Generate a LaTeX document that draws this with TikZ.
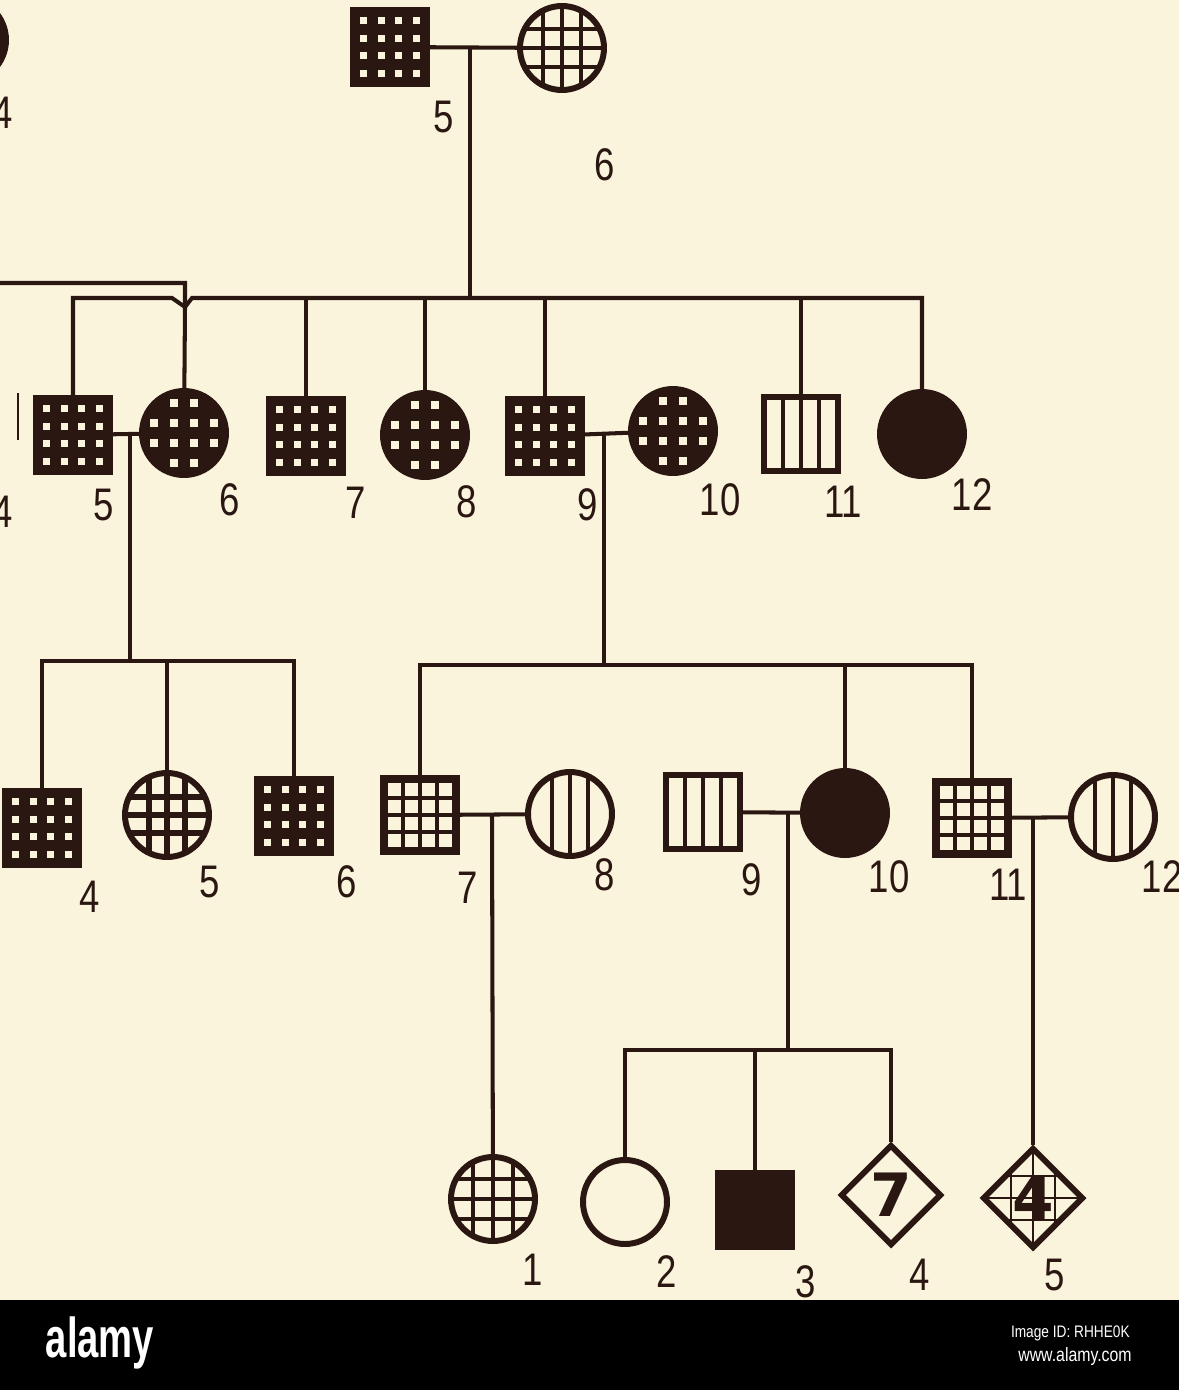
\documentclass[tikz,border=0pt]{standalone}
\usepackage{fontspec}
\usetikzlibrary{shapes.geometric}
\newfontfamily\numfont[FakeStretch=0.8]{Liberation Sans}
\newfontfamily\markfont{DejaVu Sans}
\newfontfamily\bannerfont[FakeStretch=0.68]{Liberation Sans}
\newfontfamily\smallfont[FakeStretch=0.82]{Liberation Sans}
\definecolor{paper}{HTML}{FBF4DC}
\definecolor{ink}{HTML}{2B1712}

\tikzset{
  sym/.style={draw=ink, line width=3.4pt, inner sep=0pt, fill=paper},
  male/.style={sym, rectangle, minimum size=1.48cm},
  female/.style={sym, circle, minimum size=1.68cm},
  unknown/.style={sym, diamond, minimum size=2.02cm, text=ink,
    font=\markfont\bfseries\fontsize{34}{34}\selectfont},
  solid/.style={fill=ink},
  holes/.style 2 args={fill=ink, path picture={
      \foreach \u in {-1.5,-0.5,0.5,1.5}
        \foreach \v in {-1.5,-0.5,0.5,1.5}
          \fill[paper, shift={(path picture bounding box.center)}]
            (\u*#1-#2/2,\v*#1-#2/2) rectangle ++(#2,#2);}},
  dotci/.style={fill=ink, path picture={
      \foreach \u/\v in {-0.5/-1.5,0.5/-1.5,-1.5/-0.5,-0.5/-0.5,0.5/-0.5,1.5/-0.5,
                         -1.5/0.5,-0.5/0.5,0.5/0.5,1.5/0.5,-0.5/1.5,0.5/1.5}
        \fill[paper, shift={(path picture bounding box.center)}]
          (\u*20-4,\v*20-4) rectangle ++(8,8);}},
  bars/.style={path picture={
      \foreach \u in {-18,0,18}
        \draw[ink, line width=#1, shift={(path picture bounding box.center)}]
          (\u,-60) -- (\u,60);}},
  mesh/.style 2 args={path picture={
      \foreach \u in {-1,0,1} {
        \draw[ink, line width=#1, shift={(path picture bounding box.center)}]
          (\u*#2,-60) -- (\u*#2,60);
        \draw[ink, line width=#1, shift={(path picture bounding box.center)}]
          (-60,\u*#2) -- (60,\u*#2);}}},
  line/.style={draw=ink, line width=2.3pt},
  num/.style={text=ink, inner sep=0pt, font=\numfont\fontsize{26}{26}\selectfont}
}

\begin{document}
\begin{tikzpicture}[x=0.02cm, y=-0.02cm]
\useasboundingbox (0,0) rectangle (1179,1390);
\fill[paper] (0,0) rectangle (1179,1300);
\fill[black] (0,1300) rectangle (1179,1390);

% generation I
\node[female, dotci] (i4) at (-36,40) {};
\node[male, holes={17.5}{7}] (i5) at (390,47) {};
\node[female, mesh={2pt}{19}] (i6) at (562,48) {};
\node[num] (n-i4) at (3,113) {4};
\node[num] (n-i5) at (444,117) {5};
\node[num] (n-i6) at (605,165) {6};

% generation II
\node[male, holes={17.5}{7}] (ii5) at (73,435) {};
\node[female, dotci] (ii6) at (184,433) {};
\node[male, holes={17.5}{7}] (ii7) at (306,436) {};
\node[female, dotci] (ii8) at (425,435) {};
\node[male, holes={17.5}{7}] (ii9) at (545,436) {};
\node[female, dotci] (ii10) at (673,431) {};
\node[male, bars=2.8pt] (ii11) at (801,434) {};
\node[female, solid] (ii12) at (922,434) {};
\node[num] (n-ii4) at (3,512) {4};
\node[num] (n-ii5) at (104,505) {5};
\node[num] (n-ii6) at (230,500) {6};
\node[num] (n-ii7) at (356,503) {7};
\node[num] (n-ii8) at (467,502) {8};
\node[num] (n-ii9) at (588,505) {9};
\node[num] (n-ii10) at (720,500) {10};
\node[num] (n-ii11) at (843,502) {11};
\node[num] (n-ii12) at (972,495) {12};
\coordinate (t1) at (18,393);
\coordinate (t2) at (18,440);
\draw[ink, line width=0.9pt] (t1) -- (t2);

% generation III
\node[male, holes={17.5}{7}] (iii4) at (42,828) {};
\node[female, mesh={3pt}{18}] (iii5) at (167,815) {};
\node[male, holes={17.5}{7}] (iii6) at (294,816) {};
\node[male, holes={17}{13}] (iii7) at (420,815) {};
\node[female, bars=2.2pt] (iii8) at (570,814) {};
\node[male, bars=2.8pt] (iii9) at (703,812) {};
\node[female, solid] (iii10) at (845,813) {};
\node[male, holes={17}{13}] (iii11) at (972,818) {};
\node[female, bars=2.2pt] (iii12) at (1113,817) {};
\node[num] (n-iii4) at (90,897) {4};
\node[num] (n-iii5) at (210,882) {5};
\node[num] (n-iii6) at (347,882) {6};
\node[num] (n-iii7) at (468,888) {7};
\node[num] (n-iii8) at (605,875) {8};
\node[num] (n-iii9) at (752,880) {9};
\node[num] (n-iii10) at (889,877) {10};
\node[num] (n-iii11) at (1008,885) {11};
\node[num] (n-iii12) at (1162,877) {12};

% generation IV
\node[female, mesh={2pt}{20}] (iv1) at (493,1199) {};
\node[female] (iv2) at (625,1202) {};
\node[male, solid] (iv3) at (755,1210) {};
\node[unknown] (iv4) at (891,1195) {7};
\node[unknown, mesh={1.6pt}{22}] (iv5) at (1033,1198) {4};
\node[num] (n-iv1) at (533,1270) {1};
\node[num] (n-iv2) at (667,1272) {2};
\node[num] (n-iv3) at (806,1282) {3};
\node[num] (n-iv4) at (920,1275) {4};
\node[num] (n-iv5) at (1055,1275) {5};

% matings and sibships
\coordinate (l0) at (-10,283);
\coordinate (v6) at (185,307);
\coordinate (v6l) at (172,298);
\coordinate (v6r) at (192,298);
\coordinate (m1) at (470,48);
\coordinate (s2) at (470,298);
\draw[line] (i5) -- (i6);
\draw[line] (m1) -- (s2);
\draw[line] (l0) -| (v6) -- (ii6);
\draw[line] (ii5) |- (v6l) -- (v6) -- (v6r) -| (ii12);
\foreach \c in {ii7,ii8,ii9,ii11}
  \draw[line] (\c) -- (\c |- s2);

\coordinate (m2) at (130,432);
\coordinate (s3l) at (130,661);
\draw[line] (ii5) -- (ii6);
\draw[line] (m2) -- (s3l);
\draw[line] (iii4) |- (s3l) -| (iii6);
\draw[line] (iii5) -- (iii5 |- s3l);

\coordinate (m3) at (604,432);
\coordinate (s3r) at (604,665);
\draw[line] (ii9) -- (ii10);
\draw[line] (m3) -- (s3r);
\draw[line] (iii7) |- (s3r) -| (iii11);
\draw[line] (iii10) -- (iii10 |- s3r);

\coordinate (m4) at (492,813);
\coordinate (m5) at (788,812);
\coordinate (m6) at (1033,817);
\coordinate (s4) at (788,1050);
\draw[line] (iii7) -- (iii8);
\draw[line] (iii9) -- (iii10);
\draw[line] (iii11) -- (iii12);
\draw[line] (m4) -- (iv1);
\draw[line] (m5) -- (s4);
\draw[line] (iv2) |- (s4) -| (iv4);
\draw[line] (iv3) -- (iv3 |- s4);
\draw[line] (m6) -- (iv5);

% banner
\node[text=white, inner sep=0pt, font=\bannerfont\bfseries\fontsize{32}{32}\selectfont]
  (logo) at (100,1343) {alamy};
\node[text=white, inner sep=0pt, anchor=east, font=\smallfont\fontsize{9.5}{9.5}\selectfont]
  (imgid) at (1130,1333) {Image ID: RHHE0K};
\node[text=white, inner sep=0pt, anchor=east, font=\smallfont\fontsize{11}{11}\selectfont]
  (site) at (1132,1356) {www.alamy.com};
\end{tikzpicture}
\end{document}
